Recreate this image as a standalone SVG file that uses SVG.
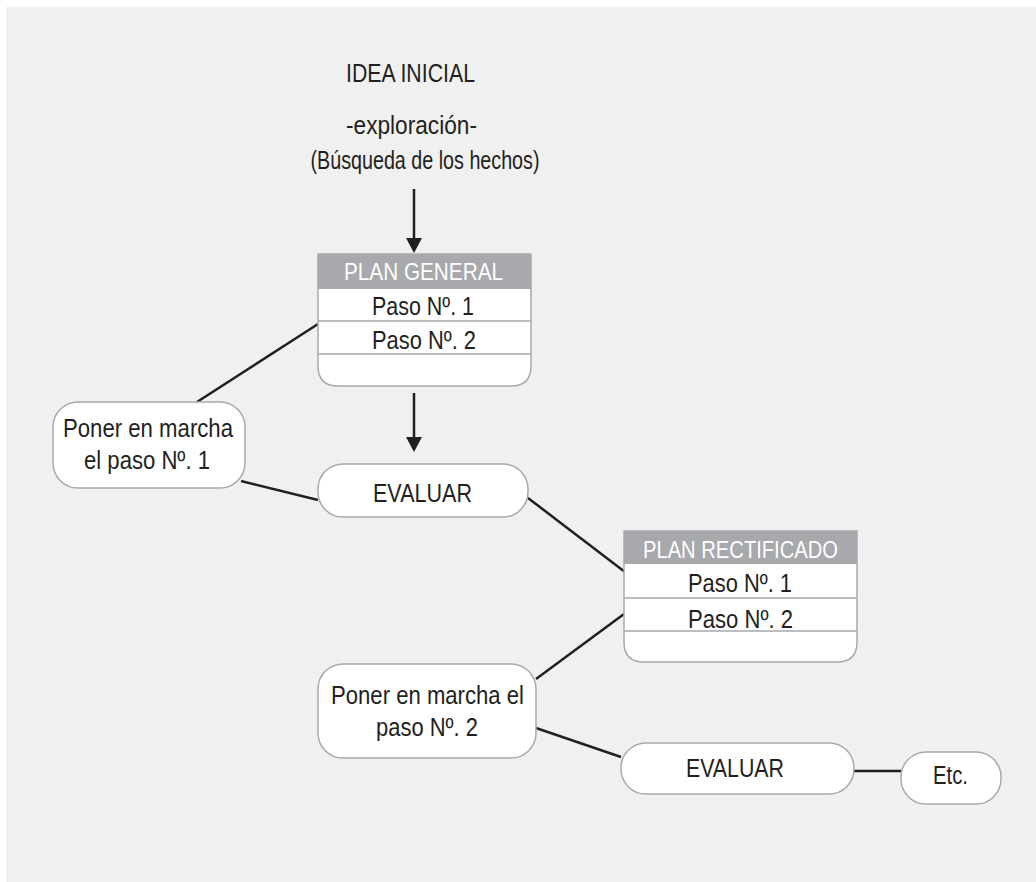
<svg xmlns="http://www.w3.org/2000/svg" width="1036" height="882" viewBox="0 0 1036 882">
<defs>
<style>
text{font-family:"Liberation Sans",Arial,sans-serif;font-size:25px;fill:#231f20;text-anchor:middle}
.hd{fill:#ffffff;font-size:24px}
.box{fill:#ffffff;stroke:#a7a9ac;stroke-width:1.5}
.head{fill:#a7a9ac}
.sep{stroke:#a7a9ac;stroke-width:1.5;fill:none}
.con{stroke:#231f20;stroke-width:2.5;fill:none}
</style>
<marker id="arr" viewBox="0 0 15 16" refX="2" refY="8" markerWidth="15" markerHeight="16" markerUnits="userSpaceOnUse" orient="auto">
<path d="M0 0 L15 8 L0 16 Z" fill="#231f20"/>
</marker>
</defs>
<rect x="6" y="7" width="1030" height="875" fill="#f0f0f0"/>

<g id="connectors">
<line class="con" x1="414" y1="189" x2="414" y2="240" marker-end="url(#arr)"/>
<line class="con" x1="414" y1="393" x2="414" y2="439" marker-end="url(#arr)"/>
<line class="con" x1="318" y1="324" x2="197" y2="402"/>
<line class="con" x1="241" y1="481" x2="318" y2="500"/>
<line class="con" x1="528" y1="498" x2="625" y2="572"/>
<line class="con" x1="624" y1="614" x2="536" y2="679"/>
<line class="con" x1="536" y1="728" x2="621" y2="757"/>
<line class="con" x1="854" y1="771" x2="901" y2="771"/>
</g>

<g id="idea">
<text x="410.5" y="82" textLength="129" lengthAdjust="spacingAndGlyphs">IDEA INICIAL</text>
<text x="411.5" y="134" textLength="131" lengthAdjust="spacingAndGlyphs">-exploración-</text>
<text x="425" y="169" textLength="229" lengthAdjust="spacingAndGlyphs">(Búsqueda de los hechos)</text>
</g>

<g id="plan-general">
<path class="box" d="M318 254 H531 V366 Q531 386 511 386 H338 Q318 386 318 366 Z"/>
<rect class="head" x="318" y="254" width="213" height="35"/>
<line class="sep" x1="318" y1="321" x2="531" y2="321"/>
<line class="sep" x1="318" y1="354" x2="531" y2="354"/>
<text class="hd" x="423.5" y="280" textLength="159" lengthAdjust="spacingAndGlyphs">PLAN GENERAL</text>
<text x="423" y="315" textLength="102" lengthAdjust="spacingAndGlyphs">Paso Nº. 1</text>
<text x="424" y="349" textLength="104" lengthAdjust="spacingAndGlyphs">Paso Nº. 2</text>
</g>

<g id="poner1">
<rect class="box" x="53" y="402" width="192" height="86" rx="25"/>
<text x="148" y="437" textLength="170" lengthAdjust="spacingAndGlyphs">Poner en marcha</text>
<text x="147" y="469" textLength="126" lengthAdjust="spacingAndGlyphs">el paso Nº. 1</text>
</g>

<g id="evaluar1">
<rect class="box" x="318" y="464" width="210" height="53" rx="25"/>
<text x="422.5" y="502" textLength="99" lengthAdjust="spacingAndGlyphs">EVALUAR</text>
</g>

<g id="plan-rectificado">
<path class="box" d="M624 531 H857 V642 Q857 662 837 662 H644 Q624 662 624 642 Z"/>
<rect class="head" x="624" y="531" width="233" height="33"/>
<line class="sep" x1="624" y1="598" x2="857" y2="598"/>
<line class="sep" x1="624" y1="631" x2="857" y2="631"/>
<text class="hd" x="740.5" y="558" textLength="195" lengthAdjust="spacingAndGlyphs">PLAN RECTIFICADO</text>
<text x="740" y="592" textLength="104" lengthAdjust="spacingAndGlyphs">Paso Nº. 1</text>
<text x="740.5" y="628" textLength="105" lengthAdjust="spacingAndGlyphs">Paso Nº. 2</text>
</g>

<g id="poner2">
<rect class="box" x="318" y="664" width="218" height="94" rx="25"/>
<text x="427.5" y="704" textLength="193" lengthAdjust="spacingAndGlyphs">Poner en marcha el</text>
<text x="427" y="736" textLength="102" lengthAdjust="spacingAndGlyphs">paso Nº. 2</text>
</g>

<g id="evaluar2">
<rect class="box" x="621" y="743" width="233" height="51" rx="25"/>
<text x="735" y="777" textLength="98" lengthAdjust="spacingAndGlyphs">EVALUAR</text>
</g>

<g id="etc">
<rect class="box" x="901" y="752" width="100" height="52" rx="25"/>
<text x="950.5" y="784" textLength="35" lengthAdjust="spacingAndGlyphs">Etc.</text>
</g>
</svg>
